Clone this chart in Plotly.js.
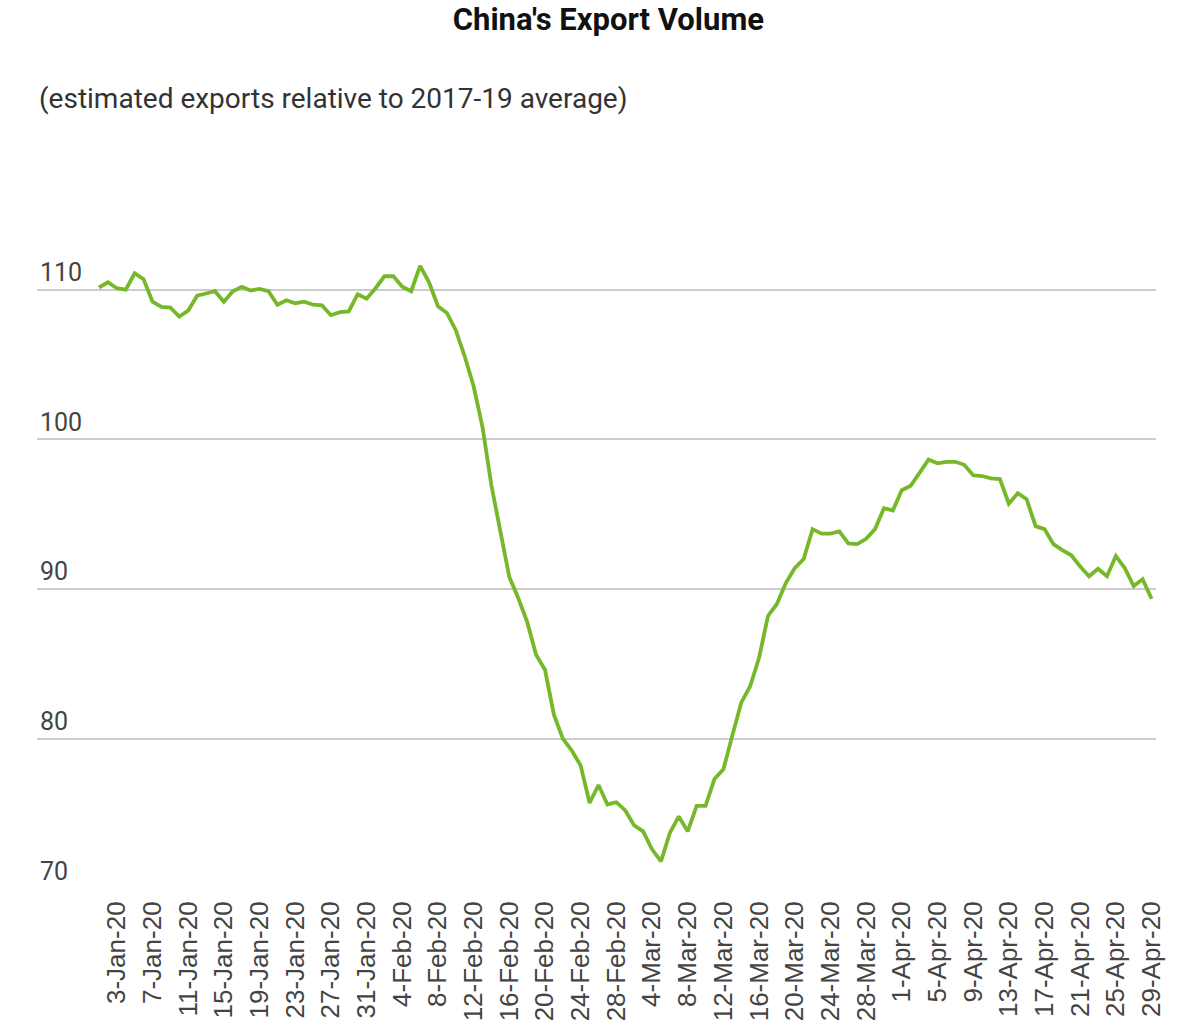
<!DOCTYPE html>
<html>
<head>
<meta charset="utf-8">
<title>China's Export Volume</title>
<script src="https://cdn.plot.ly/plotly-3.0.1.min.js"></script>
<style>
    html, body { margin: 0; padding: 0; background: #ffffff; }
    #chart { width: 1200px; height: 1031px; }
</style>
</head>
<body>
<div id="chart"></div>
<script>
// Daily series, 1-Jan-20 to 29-Apr-20 (source skips 29-Feb)
const monthNames = ['Jan', 'Feb', 'Mar', 'Apr'];
const monthDays = [31, 28, 31, 29];

// Estimated exports relative to 2017-19 average
const exportVolume = [
    110.15, 110.5, 110.1, 110.0, 111.1, 110.7, 109.2, 108.85, 108.8, 108.2,
    108.6, 109.6, 109.75, 109.9, 109.2, 109.9, 110.2, 109.95, 110.05, 109.9,
    109.0, 109.3, 109.1, 109.2, 109.0, 108.95, 108.3, 108.5, 108.55, 109.7,
    109.4, 110.1, 110.9, 110.9, 110.2, 109.9, 111.6, 110.5, 108.9, 108.45,
    107.3, 105.55, 103.55, 100.8, 96.9, 93.9, 90.8, 89.4, 87.8, 85.6,
    84.6, 81.6, 80.0, 79.2, 78.2, 75.7, 76.9, 75.6, 75.75, 75.2,
    74.2, 73.8, 72.6, 71.8, 73.7, 74.8, 73.8, 75.5, 75.5, 77.3,
    77.95, 80.2, 82.4, 83.5, 85.4, 88.2, 89.0, 90.4, 91.4, 92.0,
    94.0, 93.7, 93.7, 93.85, 93.05, 93.0, 93.35, 94.0, 95.4, 95.25,
    96.6, 96.9, 97.8, 98.65, 98.4, 98.5, 98.5, 98.3, 97.6, 97.55,
    97.4, 97.35, 95.7, 96.4, 96.0, 94.2, 94.0, 93.0, 92.6, 92.25,
    91.5, 90.85, 91.35, 90.85, 92.2, 91.4, 90.2, 90.65, 89.35
];

const yTicks = [70, 80, 90, 100, 110];

// Build the category labels like "3-Jan-20"
const dates = [];
monthNames.forEach((m, k) => {
    for (let d = 1; d <= monthDays[k]; d++) {
        dates.push(`${d}-${m}-20`);
    }
});

// Every 4th day gets a label, starting at 3-Jan
const tickDates = dates.filter((d, i) => i % 4 === 2);

const trace = {
    x: dates,
    y: exportVolume,
    type: 'scatter',
    mode: 'lines',
    line: { color: '#76b82a', width: 3.8 },
    hoverinfo: 'x+y'
};

const layout = {
    width: 1200,
    height: 1031,
    paper_bgcolor: '#ffffff',
    plot_bgcolor: '#ffffff',
    margin: { l: 37, r: 44, t: 185, b: 142 },
    showlegend: false,
    title: {
        text: "<b>China's Export Volume</b>",
        font: { family: 'Roboto, sans-serif', size: 31, color: '#111111' },
        xref: 'container',
        yref: 'container',
        x: 0.507,
        y: 1 - 19 / 1031,
        xanchor: 'center',
        yanchor: 'middle'
    },
    xaxis: {
        type: 'category',
        range: [-6.95, 118.5],
        tickmode: 'array',
        tickvals: tickDates,
        ticktext: tickDates,
        tickangle: -90,
        tickfont: { family: 'Liberation Sans, Arial, sans-serif', size: 26, color: '#444444' },
        showgrid: false,
        showline: false,
        zeroline: false,
        ticks: 'outside',
        ticklen: 1,
        tickcolor: 'rgba(0,0,0,0)',
        automargin: false,
        fixedrange: true
    },
    yaxis: {
        range: [69.95, 117],
        tickmode: 'array',
        tickvals: yTicks,
        ticklabelposition: 'inside top',
        tickfont: { family: 'Roboto, sans-serif', size: 25, color: '#444444' },
        showgrid: true,
        gridcolor: '#cccccc',
        gridwidth: 1.5,
        showline: false,
        zeroline: false,
        ticks: '',
        automargin: false,
        fixedrange: true
    },
    annotations: [{
        text: '(estimated exports relative to 2017-19 average)',
        xref: 'paper',
        yref: 'paper',
        x: 0,
        y: (889 - 98) / 704,
        xanchor: 'left',
        yanchor: 'middle',
        showarrow: false,
        font: { family: 'Roboto, sans-serif', size: 28, color: '#333333' }
    }]
};

Plotly.newPlot('chart', [trace], layout, { displayModeBar: false, responsive: false });
</script>
</body>
</html>
